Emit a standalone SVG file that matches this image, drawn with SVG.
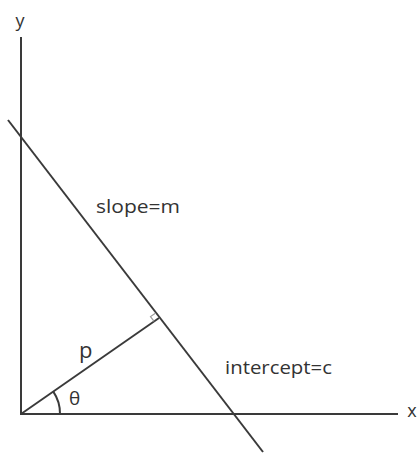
<svg xmlns="http://www.w3.org/2000/svg" width="419" height="454" viewBox="0 0 419 454">
<style>
.ln{stroke:#3a3a3a;stroke-width:2;fill:none;stroke-linecap:butt}
.lt{stroke:#9a9a9a;stroke-width:1.2;fill:none}
.tx{font-family:"Open Sans","DejaVu Sans",sans-serif;fill:#333}
</style>
<rect width="419" height="454" fill="#fff"/>
<g id="axes">
<line class="ln" x1="21" y1="37" x2="21" y2="415"/>
<line class="ln" x1="20" y1="414" x2="398" y2="414"/>
</g>
<g id="connectors">
<line class="ln" x1="8" y1="120" x2="263" y2="452"/>
<line class="ln" x1="21" y1="414" x2="159" y2="318"/>
<path class="lt" d="M155.4,313.2 L150.5,316.6 L154.1,321.4"/>
<path class="ln" stroke-width="1.6" d="M53.3,391.6 A39 39 0 0 1 60,414"/>
</g>
<g id="labels">
<text class="tx" x="20" y="27" font-size="18" text-anchor="middle">y</text>
<text class="tx" x="412" y="417" font-size="18" text-anchor="middle">x</text>
<text class="tx" x="96" y="213" font-size="18" textLength="84" lengthAdjust="spacingAndGlyphs">slope=m</text>
<text class="tx" x="225" y="374" font-size="18" textLength="107" lengthAdjust="spacingAndGlyphs">intercept=c</text>
<text class="tx" x="79" y="358" font-size="22">p</text>
<text class="tx" x="69" y="405" font-size="19">θ</text>
</g>
</svg>
